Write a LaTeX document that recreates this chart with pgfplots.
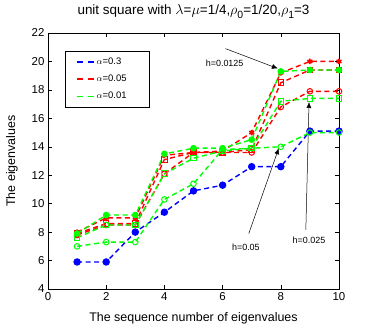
\documentclass[border=0pt]{standalone}
\usepackage{fontspec}
\setmainfont{Liberation Sans}
\usepackage{pgfplots}
\pgfplotsset{compat=1.18}
\usetikzlibrary{arrows.meta}

\definecolor{mblue}{RGB}{0,0,255}
\definecolor{mred}{RGB}{255,0,0}
\definecolor{mgreen}{RGB}{0,255,0}

\pgfplotsset{
    eig/.style={line width=1.4bp, dash pattern=on 5bp off 3.5bp, mark size=2.8bp,
        mark options={solid, line width=1bp}, forget plot},
    legline/.style={line width=1.6bp, dash pattern=on 6bp off 5bp},
}
\newcommand{\sub}[1]{\raisebox{-3.5bp}{\fontsize{10.5}{12}\selectfont #1}}

\begin{document}
\begin{tikzpicture}[font=\fontsize{11.5}{13}\selectfont]
\begin{axis}[
    scale only axis,
    width=291bp, height=256bp,
    xmin=0, xmax=10, ymin=4, ymax=22,
    xtick={0,2,...,10}, ytick={4,6,...,22},
    tick align=inside,
    major tick length=4bp,
    tick style={black, line width=0.4bp},
    axis line style={line width=0.5bp},
    /pgf/number format/assume math mode=true,
    title={unit square with\ $\lambda$=$\mu$=1/4,$\rho$\sub{0}=1/20,$\rho$\sub{1}=3},
    title style={at={(axis description cs:0.5,1.06)}, anchor=center, font=\fontsize{13.5}{15}\selectfont},
    xlabel={The sequence number of eigenvalues},
    xlabel style={at={(axis description cs:0.5,-0.113)}, anchor=center, font=\fontsize{12.5}{14}\selectfont},
    ylabel={The eigenvalues},
    ylabel style={at={(axis description cs:-0.124,0.5)}, anchor=center, font=\fontsize{12.5}{14}\selectfont},
    clip=false,
    legend cell align=left,
    legend style={at={(axis description cs:0.058,0.93)}, anchor=north west,
        draw=black, font=\fontsize{9.5}{11}\selectfont,
        inner xsep=11bp, inner ysep=5bp, row sep=5bp,
        nodes={text width=40bp}},
]
% legend samples: dashed lines only
\addlegendimage{mblue, legline}
\addlegendentry{$\alpha$=0.3}
\addlegendimage{mred, legline}
\addlegendentry{$\alpha$=0.05}
\addlegendimage{mgreen, legline}
\addlegendentry{$\alpha$=0.01}

% alpha = 0.3
\addplot[eig, mblue, mark=*, mark size=3.2bp] coordinates {
    (1,5.9) (2,5.9) (3,8.0) (4,9.4) (5,10.9) (6,11.3) (7,12.6) (8,12.6) (9,15.1) (10,15.1)};

% alpha = 0.05
\addplot[eig, mred, mark=o] coordinates {
    (1,7.8) (2,8.5) (3,8.5) (4,12.1) (5,13.6) (6,13.6) (7,13.6) (8,16.8) (9,17.9) (10,17.9)};
\addplot[eig, mred, mark=square] coordinates {
    (1,7.9) (2,8.6) (3,8.6) (4,13.1) (5,13.6) (6,13.6) (7,13.8) (8,18.5) (9,19.4) (10,19.4)};
\addplot[eig, mred, mark=asterisk, mark options={solid, line width=1.6bp}] coordinates {
    (1,8.0) (2,9.0) (3,9.0) (4,13.4) (5,13.6) (6,13.7) (7,15.0) (8,19.2) (9,20.0) (10,20.0)};

% alpha = 0.01
\addplot[eig, mgreen, mark=o] coordinates {
    (1,7.0) (2,7.3) (3,7.3) (4,10.3) (5,11.4) (6,13.8) (7,13.9) (8,14.0) (9,15.0) (10,15.0)};
\addplot[eig, mgreen, mark=square] coordinates {
    (1,7.6) (2,8.5) (3,8.5) (4,12.1) (5,13.2) (6,13.7) (7,13.9) (8,17.2) (9,17.4) (10,17.4)};
\addplot[eig, mgreen, mark=*] coordinates {
    (1,7.9) (2,9.2) (3,9.2) (4,13.5) (5,13.9) (6,13.9) (7,14.5) (8,19.3) (9,19.4) (10,19.4)};

% mesh size annotations
\draw[-{Latex[length=6bp,width=5bp]}, line width=0.5bp] (axis cs:6.1,20.9) -- (axis cs:7.9,19.5);
\node[font=\fontsize{9}{11}\selectfont] at (axis cs:6.07,19.9) {h=0.0125};
\draw[-{Latex[length=6bp,width=5bp]}, line width=0.5bp] (axis cs:6.9,7.9) -- (axis cs:7.93,13.9);
\node[font=\fontsize{9}{11}\selectfont] at (axis cs:6.8,6.95) {h=0.05};
\draw[-{Latex[length=6bp,width=5bp]}, line width=0.5bp] (axis cs:8.86,8.15) -- (axis cs:8.97,17.15);
\node[font=\fontsize{9}{11}\selectfont] at (axis cs:8.97,7.4) {h=0.025};

\coordinate (sw) at (rel axis cs:0,0);
\coordinate (ne) at (rel axis cs:1,1);
\end{axis}
\path ([xshift=-48bp,yshift=-43bp]sw) rectangle ([xshift=35bp,yshift=33bp]ne);
\end{tikzpicture}
\end{document}
